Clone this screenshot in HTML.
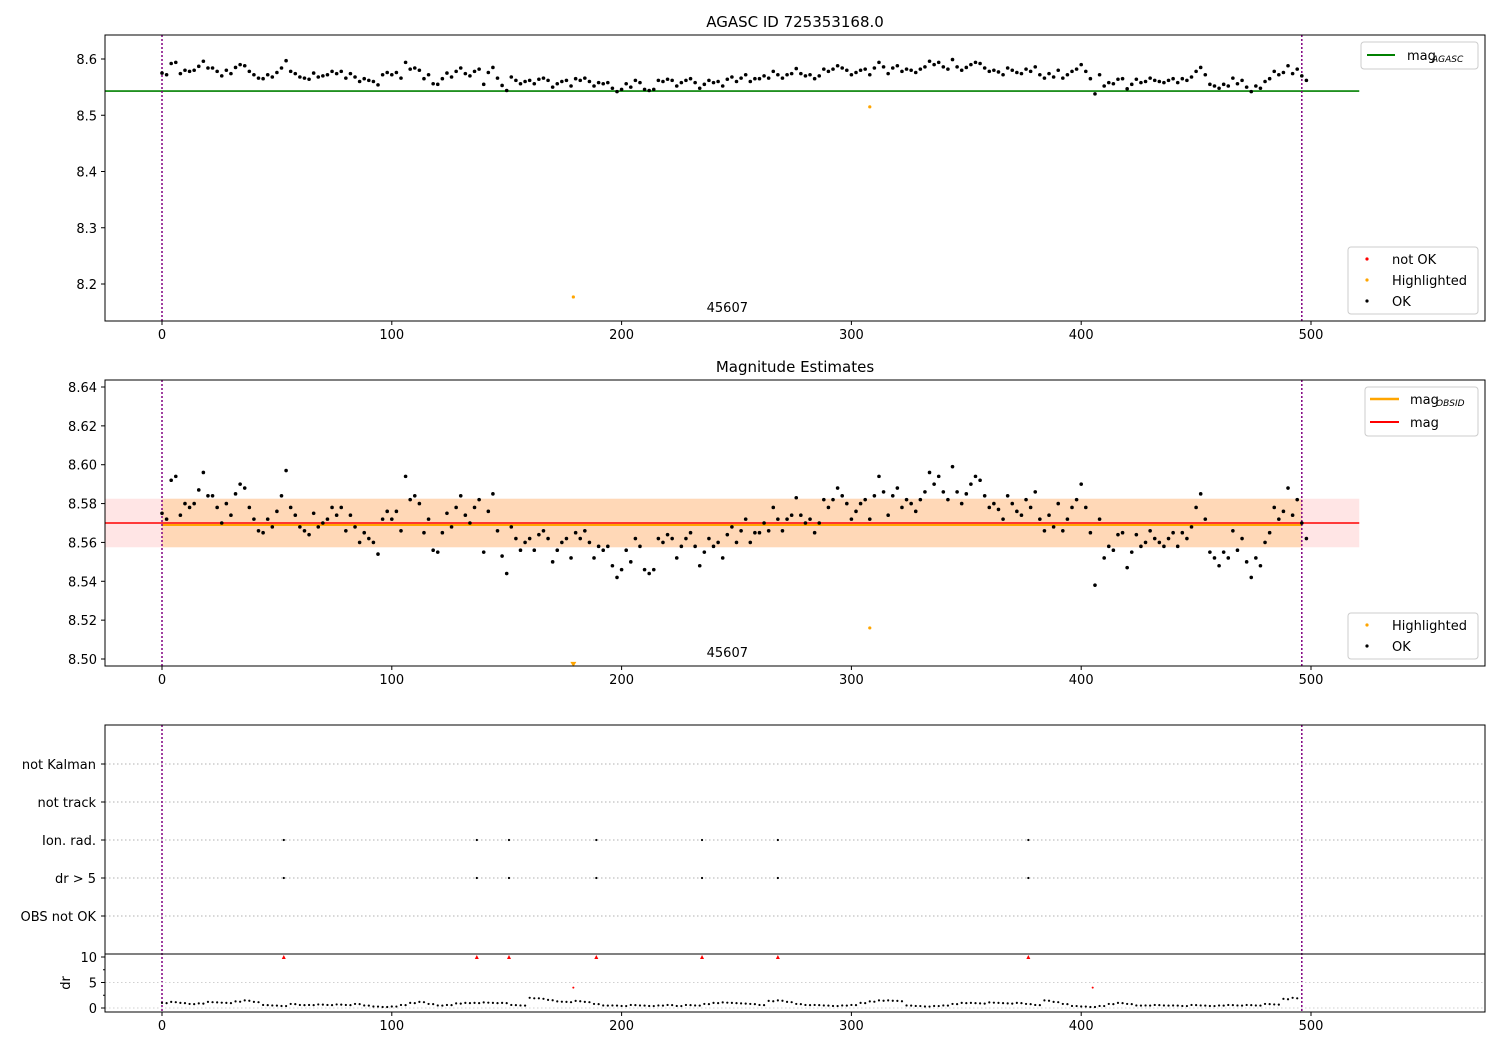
<!DOCTYPE html>
<html><head><meta charset="utf-8"><style>
body{margin:0;background:#fff}
svg{font-family:"DejaVu Sans","Liberation Sans",sans-serif}
</style></head><body>
<svg id="c" width="1500" height="1050"></svg>
<script>
const magStart=0, magStep=2;
const magVals=[8.575,8.572,8.592,8.594,8.574,8.58,8.578,8.58,8.587,8.596,8.584,8.584,8.578,8.57,8.58,8.574,8.585,8.59,8.588,8.578,8.572,8.566,8.565,8.572,8.568,8.576,8.584,8.597,8.578,8.574,8.568,8.566,8.564,8.575,8.568,8.57,8.572,8.578,8.574,8.578,8.566,8.574,8.568,8.56,8.565,8.562,8.56,8.554,8.572,8.576,8.572,8.576,8.566,8.594,8.582,8.584,8.58,8.565,8.572,8.556,8.555,8.565,8.575,8.568,8.578,8.584,8.574,8.57,8.578,8.582,8.555,8.576,8.585,8.566,8.553,8.544,8.568,8.562,8.556,8.56,8.562,8.556,8.564,8.566,8.562,8.55,8.556,8.56,8.562,8.552,8.565,8.562,8.566,8.56,8.552,8.558,8.556,8.558,8.548,8.542,8.546,8.556,8.55,8.562,8.558,8.546,8.544,8.546,8.562,8.56,8.564,8.562,8.552,8.558,8.562,8.565,8.558,8.548,8.555,8.562,8.558,8.56,8.552,8.564,8.568,8.56,8.566,8.572,8.56,8.565,8.565,8.57,8.566,8.578,8.572,8.566,8.572,8.574,8.583,8.574,8.57,8.572,8.565,8.57,8.582,8.578,8.582,8.588,8.584,8.58,8.572,8.576,8.58,8.582,8.572,8.584,8.594,8.586,8.574,8.584,8.588,8.578,8.582,8.58,8.576,8.582,8.586,8.596,8.59,8.594,8.586,8.582,8.599,8.586,8.58,8.585,8.59,8.594,8.592,8.584,8.578,8.58,8.577,8.572,8.584,8.58,8.576,8.574,8.582,8.578,8.586,8.572,8.566,8.574,8.568,8.58,8.566,8.572,8.578,8.582,8.59,8.578,8.565,8.538,8.572,8.552,8.558,8.556,8.564,8.565,8.547,8.555,8.564,8.558,8.56,8.566,8.562,8.56,8.558,8.562,8.565,8.558,8.565,8.562,8.568,8.578,8.585,8.572,8.555,8.552,8.548,8.555,8.552,8.566,8.556,8.562,8.55,8.542,8.552,8.548,8.56,8.565,8.578,8.572,8.576,8.588,8.574,8.582,8.57,8.562];
const hlX=[179,308], hlTop=[8.177,8.515], hlMid=[8.497,8.516];
const drStep=4;
const drVals=[1.0,1.2,1.0,0.8,0.9,1.2,1.1,1.0,1.3,1.5,1.2,0.6,0.5,0.4,0.8,0.6,0.6,0.7,0.6,0.7,0.6,0.8,0.5,0.3,0.2,0.3,0.6,1.0,1.2,0.8,0.5,0.6,0.9,1.0,1.0,1.1,1.0,1.0,0.6,0.5,2.0,1.9,1.6,1.3,1.2,1.4,1.2,0.8,0.5,0.5,0.4,0.6,0.5,0.4,0.5,0.6,0.4,0.6,0.5,0.8,1.0,1.1,1.0,0.9,0.8,0.6,1.4,1.5,1.2,0.8,0.6,0.6,0.5,0.4,0.5,0.6,1.0,1.3,1.5,1.5,1.4,0.5,0.4,0.3,0.4,0.5,0.8,1.0,1.0,0.9,1.1,1.0,0.9,1.0,0.8,0.6,1.5,1.2,0.8,0.4,0.3,0.2,0.4,0.8,1.0,0.8,0.5,0.5,0.6,0.5,0.5,0.4,0.6,0.5,0.4,0.5,0.6,0.5,0.6,0.5,0.8,0.7,1.8,2.0];
const flagX=[53,137,151,189,235,268,377];
const drRedX=[179,405], drRedY=[4,4];
const xTicks=[0,100,200,300,400,500];
const topTicks=[8.2,8.3,8.4,8.5,8.6];
const midTicks=[8.50,8.52,8.54,8.56,8.58,8.60,8.62,8.64];
const cats=["not Kalman","not track","Ion. rad.","dr > 5","OBS not OK"];
const drTicks=[0,5,10];

const svg=document.getElementById('c');
const NS='http://www.w3.org/2000/svg';
function el(t,a,txt){const e=document.createElementNS(NS,t);for(const k in a)e.setAttribute(k,a[k]);if(txt!==undefined)e.textContent=txt;svg.appendChild(e);return e;}
const X=v=>162+v*(1311-162)/500;
const L=105,R=1485;
const Yt=v=>59+(8.6-v)*562.5;
const Ym=v=>387+(8.64-v)*(659-387)/0.14;
const Yd=v=>1008-v*5.1;

function frame(top,bot,name){
  const r=el('rect',{x:L,y:top,width:R-L,height:bot-top,fill:'none',stroke:'#000','stroke-width':1});
  
}
function xAxis(bot,name){
  xTicks.forEach(t=>{
    const l=el('line',{x1:X(t),x2:X(t),y1:bot,y2:bot+4,stroke:'#000'});
    
    const tx=el('text',{x:X(t),y:bot+18,'font-size':13,'text-anchor':'middle'},t);
    
  });
}
function yAxis(ticks,Y,fmt,name){
  ticks.forEach(t=>{
    el('line',{x1:L-4,x2:L,y1:Y(t),y2:Y(t),stroke:'#000'});
    const tx=el('text',{x:L-8,y:Y(t)+5,'font-size':13,'text-anchor':'end'},fmt(t));
    
  });
}
function vlines(top,bot){
  [0,496].forEach(v=>{const l=el('line',{x1:X(v),x2:X(v),y1:top,y2:bot,stroke:'#800080','stroke-width':1.5,'stroke-dasharray':'2,2'});
  });
}
function dot(x,y,r,c,name){const d=el('circle',{cx:x,cy:y,r:r,fill:c});}

// ---- Panel 1
let t=el('text',{x:795,y:27,'font-size':15,'text-anchor':'middle'},'AGASC ID 725353168.0');

let g=el('line',{x1:X(-25),x2:X(521),y1:Yt(8.543),y2:Yt(8.543),stroke:'green','stroke-width':1.6});

vlines(35,321);
magVals.forEach((v,i)=>dot(X(magStart+i*magStep),Yt(v),1.8,'#000','ok-point'));
hlX.forEach((x,i)=>dot(X(x),Yt(hlTop[i]),1.6,'orange','highlighted-point'));
t=el('text',{x:X(237),y:312,'font-size':13},'45607');
frame(35,321,'top-axes');xAxis(321,'top-x');yAxis(topTicks,Yt,v=>v.toFixed(1),'top-y');
function legendBox(x,y,w,h,name){const r=el('rect',{x:x,y:y,width:w,height:h,fill:'#fff','fill-opacity':0.8,stroke:'#ccc',rx:3});}
legendBox(1361,42,117,27,'legend-agasc');
el('line',{x1:1367,x2:1395,y1:55,y2:55,stroke:'green','stroke-width':2});
t=el('text',{x:1407,y:60,'font-size':13},'mag');
el('text',{x:1432,y:62,'font-size':9,'font-style':'italic'},'AGASC');
legendBox(1348,247,130,67,'legend-status');
[['red','not OK',260],['orange','Highlighted',281],['#000','OK',302]].forEach(a=>{dot(1367,a[2]-1,1.6,a[0],'legend-marker');const e=el('text',{x:1392,y:a[2]+4,'font-size':13},a[1]);});

// ---- Panel 2
t=el('text',{x:795,y:372,'font-size':15,'text-anchor':'middle'},'Magnitude Estimates');

let b=el('rect',{x:X(-25),y:Ym(8.5825),width:X(521)-X(-25),height:Ym(8.5575)-Ym(8.5825),fill:'red','fill-opacity':0.1});

b=el('rect',{x:X(0),y:Ym(8.5825),width:X(496)-X(0),height:Ym(8.5575)-Ym(8.5825),fill:'orange','fill-opacity':0.2});

g=el('line',{x1:X(0),x2:X(496),y1:Ym(8.5695)+1,y2:Ym(8.5695)+1,stroke:'orange','stroke-width':2});

g=el('line',{x1:X(-25),x2:X(521),y1:Ym(8.570),y2:Ym(8.570),stroke:'red','stroke-width':1.6});

vlines(380,666);
magVals.forEach((v,i)=>dot(X(magStart+i*magStep),Ym(v),1.8,'#000','ok-point'));
dot(X(hlX[1]),Ym(hlMid[1]),1.6,'orange','highlighted-point');
el('path',{d:`M${X(hlX[0])-3},${Ym(hlMid[0])-3}h6l-3,5z`,fill:'orange'});
t=el('text',{x:X(237),y:657,'font-size':13},'45607');
frame(380,666,'mid-axes');xAxis(666,'mid-x');yAxis(midTicks,Ym,v=>v.toFixed(2),'mid-y');
legendBox(1365,387,113,49,'legend-mag');
el('line',{x1:1370,x2:1399,y1:399,y2:399,stroke:'orange','stroke-width':2.5});
t=el('text',{x:1410,y:404,'font-size':13},'mag');
el('text',{x:1436,y:406,'font-size':9,'font-style':'italic'},'OBSID');
el('line',{x1:1370,x2:1399,y1:422,y2:422,stroke:'red','stroke-width':2});
t=el('text',{x:1410,y:427,'font-size':13},'mag');
legendBox(1348,613,130,46,'legend-status-mid');
[['orange','Highlighted',626],['#000','OK',647]].forEach(a=>{dot(1367,a[2]-1,1.6,a[0],'legend-marker');const e=el('text',{x:1392,y:a[2]+4,'font-size':13},a[1]);});

// ---- Panel 3
const catY=[764,802,840,878,916];
cats.forEach((c,i)=>{
  const l=el('line',{x1:L,x2:R,y1:catY[i],y2:catY[i],stroke:'#b0b0b0','stroke-dasharray':'1.5,2.5'});
  
  el('line',{x1:L-4,x2:L,y1:catY[i],y2:catY[i],stroke:'#000'});
  const e=el('text',{x:L-9,y:catY[i]+5,'font-size':13,'text-anchor':'end'},c);
  
});
vlines(725,1012);
flagX.forEach(x=>{dot(X(x),840,1.1,'#000','ion-rad-flag');dot(X(x),878,1.1,'#000','dr-flag');});
el('line',{x1:L,x2:R,y1:954,y2:954,stroke:'#000'});
[2.5,7.5].forEach(v=>el('line',{x1:L-2,x2:L,y1:Yd(v),y2:Yd(v),stroke:'#000'}));
[0,5].forEach(v=>el('line',{x1:L,x2:R,y1:Yd(v),y2:Yd(v),stroke:'#d0d0d0','stroke-dasharray':'1.5,2.5'}));
drVals.forEach((v,i)=>{dot(X(i*drStep),Yd(v),1.1,'#000','dr-point');dot(X(i*drStep+2),Yd(v*0.95),1.1,'#000','dr-point');});
flagX.forEach(x=>el('path',{d:`M${X(x)-2},${Yd(10)+2}h4l-2,-4z`,fill:'red'}));
drRedX.forEach((x,i)=>dot(X(x),Yd(drRedY[i]),1,'red','dr-highlight-point'));
frame(725,1012,'flags-axes');xAxis(1012,'bottom-x');yAxis(drTicks,Yd,v=>v,'dr-y');
t=el('text',{x:0,y:0,'font-size':13,'text-anchor':'middle',transform:'translate(70,983) rotate(-90)'},'dr');

</script>
</body></html>
